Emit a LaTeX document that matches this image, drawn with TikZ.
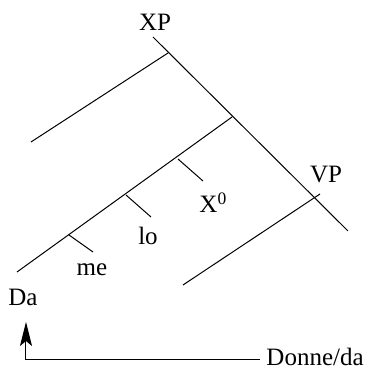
\documentclass[tikz,border=0pt]{standalone}
\usepackage{fontspec}
\setmainfont{Liberation Serif}
\usetikzlibrary{arrows.meta}

\begin{document}
\begin{tikzpicture}[x=0.5pt,y=-0.5pt,font=\fontsize{12.5}{15}\selectfont,
    line width=0.5pt,
    lbl/.style={inner sep=0pt,anchor=base}]
  \useasboundingbox (0,0) rectangle (372,369);
  % spine and branches
  \coordinate (top) at (153,37);
  \coordinate (bot) at (348,231);
  \coordinate (xpa) at (168,53);
  \coordinate (xpb) at (31,142);
  \coordinate (spa) at (232,117);
  \coordinate (spb) at (17,272);
  \coordinate (vpa) at (320,194);
  \coordinate (vpb) at (183,285);
    \draw (top) -- (bot);
    \draw (xpa) -- (xpb);
    \draw (spa) -- (spb);
    \draw (vpa) -- (vpb);
  % clitic ticks
  \coordinate (ta) at (178,159);  \coordinate (tb) at (203,181);
  \coordinate (tc) at (126,195);  \coordinate (td) at (151,217);
  \coordinate (te) at (69,235);   \coordinate (tf) at (93,252);
    \draw (ta) -- (tb);
    \draw (tc) -- (td);
    \draw (te) -- (tf);
  % labels
  \node[lbl] (xp) at (155,31) {XP};
  \node[lbl] (vp) at (326,183) {VP};
  \node[lbl,anchor=base west] (xo) at (199,213) {X\textsuperscript{0}};
  \node[lbl] (lo) at (148,245) {lo};
  \node[lbl] (me) at (92,276) {me};
  \node[lbl] (da) at (23,306) {Da};
  \node[lbl,anchor=base west] (donne) at (266,366) {Donne/da};
  % movement arrow
  \coordinate (start) at (260,360);
  \coordinate (corner) at (26,360);
  \coordinate (tip) at (26,322);
    \draw[-{Stealth[length=12pt,width=6pt,inset=2.5pt]}] (start) -- (corner) -- (tip);
\end{tikzpicture}
\end{document}
